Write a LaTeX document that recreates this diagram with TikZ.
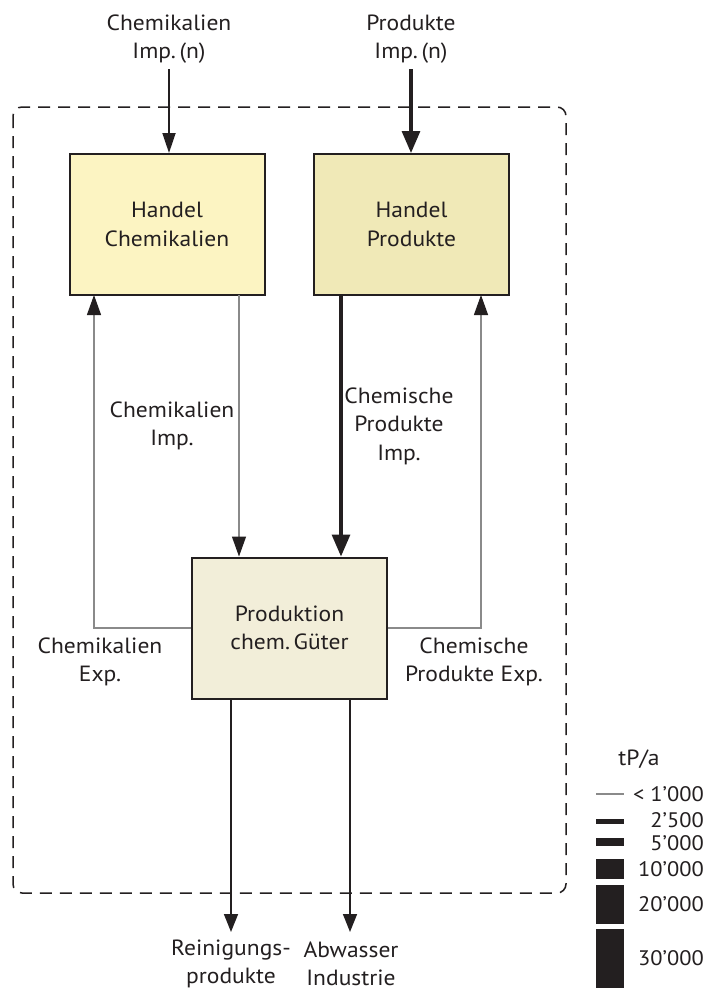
\documentclass[tikz,border=0pt]{standalone}
\usepackage{fontspec}
\setmainfont{PT Sans}[FakeStretch=1.07]
\usetikzlibrary{arrows.meta}
\definecolor{chemfill}{HTML}{FCF4C2}
\definecolor{prodfill}{HTML}{F0E9B7}
\definecolor{prodnfill}{HTML}{F2EED9}
\definecolor{flowgray}{HTML}{8A8A8A}
\definecolor{barblack}{HTML}{231F20}
\begin{document}
\begin{tikzpicture}[x=1pt,y=-1pt,
  every node/.style={font=\fontsize{22}{28.5}\selectfont, text=barblack},
  procbox/.style={draw=barblack, line width=2pt, minimum width=195pt, minimum height=141pt, align=center, inner sep=0pt},
  lbl/.style={align=center, inner sep=0pt},
  thin flow/.style={draw=flowgray, line width=1.3pt, -{Triangle[length=20pt,width=14pt,color=barblack]}},
  mid flow/.style={draw=barblack, line width=1.8pt, -{Triangle[length=20pt,width=13pt]}},
  thick flow/.style={draw=barblack, line width=3.2pt, -{Triangle[length=22pt,width=18pt]}},
  out flow/.style={draw=barblack, line width=1.5pt, -{Triangle[length=18pt,width=14pt]}},
  legbar/.style={fill=barblack, draw=none},
  leglbl/.style={anchor=east, inner sep=0pt, font=\fontsize{21}{24}\selectfont}
]
\useasboundingbox (0,0) rectangle (713,991);
\fill[white] (0,0) rectangle (713,991);

% system boundary
\draw[barblack, line width=1.5pt, dash pattern=on 12pt off 8pt, rounded corners=9pt]
  (13,107) rectangle (566,893);

% processes
\node[procbox, fill=chemfill] (hc) at (167,224.5) {Handel\\Chemikalien};
\node[procbox, fill=prodfill] (hp) at (411.5,224.5) {Handel\\Produkte};
\node[procbox, fill=prodnfill] (pg) at (289.5,628) {Produktion\\chem.\,Güter};

% import labels and their start points
\node[lbl] (chemimpn) at (169,39) {Chemikalien\\Imp.\,(n)};
\node[lbl] (prodimpn) at (411,39) {Produkte\\Imp.\,(n)};
\coordinate (chemimpnS) at (169,69);
\coordinate (prodimpnS) at (411,69);

% import flows into trading
\draw[mid flow] (chemimpnS) -- (chemimpnS |- hc.north);
\draw[thick flow] (prodimpnS) -- (prodimpnS |- hp.north);

% flows from trading to production
\coordinate (ciTop) at (239,295);
\coordinate (cpTop) at (341,295);
\draw[thin flow] (ciTop) -- (ciTop |- pg.north);
\draw[thick flow] (cpTop) -- (cpTop |- pg.north);
\node[lbl] (chemimp) at (172,426) {Chemikalien\\Imp.};
\node[lbl] (chemprodimp) at (399,426) {Chemische\\Produkte\\Imp.};

% export flows back to trading
\coordinate (ceTop) at (94,295);
\coordinate (peTop) at (481,295);
\draw[thin flow] (pg.west) -| (ceTop);
\draw[thin flow] (pg.east) -| (peTop);
\node[lbl] (chemexp) at (100,662) {Chemikalien\\Exp.};
\node[lbl] (chemprodexp) at (474,662) {Chemische\\Produkte Exp.};

% outputs leaving the system
\coordinate (reinEnd) at (231,932);
\coordinate (abwEnd) at (350,932);
\draw[out flow] (pg.south -| reinEnd) -- (reinEnd);
\draw[out flow] (pg.south -| abwEnd) -- (abwEnd);
\node[lbl] (rein) at (231,964) {Reinigungs-\\produkte};
\node[lbl] (abw) at (351,964) {Abwasser\\Industrie};

% legend
\node[lbl] (unit) at (639,759) {tP/a};
\draw[flowgray, line width=1.3pt] (596,794) -- (624,794);
\fill[legbar] (596,818.5) rectangle (624,823.5);
\fill[legbar] (596,837.5) rectangle (624,845.5);
\fill[legbar] (596,859) rectangle (624,879);
\fill[legbar] (596,885) rectangle (624,924);
\fill[legbar] (596,929) rectangle (624,988);
\node[leglbl] (l1) at (704,794) {< 1’000};
\node[leglbl] (l2) at (704,820) {2’500};
\node[leglbl] (l3) at (704,843) {5’000};
\node[leglbl] (l4) at (704,869) {10’000};
\node[leglbl] (l5) at (704,904) {20’000};
\node[leglbl] (l6) at (704,958) {30’000};
\end{tikzpicture}
\end{document}
